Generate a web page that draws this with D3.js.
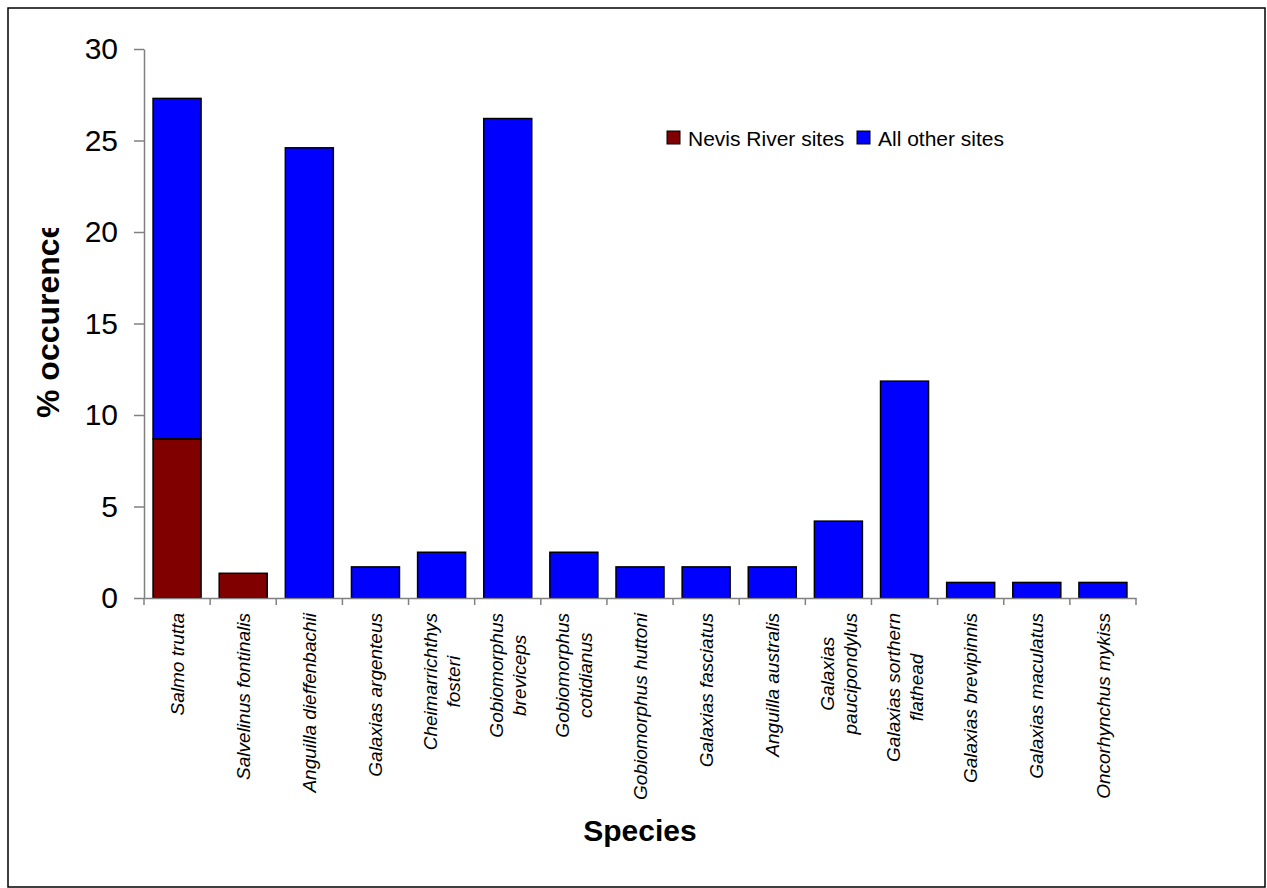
<!DOCTYPE html>
<html>
<head>
<meta charset="utf-8">
<script src="https://cdn.jsdelivr.net/npm/d3@7"></script>
<style>
  body { margin: 0; background: #fff; }
  svg { display: block; font-family: "Liberation Sans", Arial, sans-serif; }
</style>
</head>
<body>
<svg id="chart" width="1267" height="888"></svg>
<script>
const species = [
  "Salmo trutta",
  "Salvelinus fontinalis",
  "Anguilla dieffenbachii",
  "Galaxias argenteus",
  "Cheimarrichthys\nfosteri",
  "Gobiomorphus\nbreviceps",
  "Gobiomorphus\ncotidianus",
  "Gobiomorphus huttoni",
  "Galaxias fasciatus",
  "Anguilla australis",
  "Galaxias\npaucipondylus",
  "Galaxias sorthern\nflathead",
  "Galaxias brevipinnis",
  "Galaxias maculatus",
  "Oncorhynchus mykiss"
];
const nevisSites = [8.7, 1.35, 0, 0, 0, 0, 0, 0, 0, 0, 0, 0, 0, 0, 0];
const otherSites = [18.6, 0, 24.6, 1.7, 2.5, 26.2, 2.5, 1.7, 1.7, 1.7, 4.2, 11.85, 0.85, 0.85, 0.85];
const seriesNames = ["Nevis River sites", "All other sites"];
const seriesColors = ["#800000", "#0000ff"];
const yTicks = [0, 5, 10, 15, 20, 25, 30];

const svg = d3.select("#chart");

// frame
svg.append("rect")
  .attr("x", 8).attr("y", 8)
  .attr("width", 1257).attr("height", 879)
  .attr("fill", "none")
  .attr("stroke", "#000")
  .attr("stroke-width", 1.5);

const plotLeft = 144, plotRight = 1136, plotTop = 49, plotBottom = 598;

const x = d3.scaleBand()
  .domain(species)
  .range([plotLeft, plotRight])
  .paddingInner(0.274)
  .paddingOuter(0.137);

const y = d3.scaleLinear()
  .domain([0, 30])
  .range([plotBottom, plotTop]);

const rows = species.map((s, i) => ({ s, nevis: nevisSites[i], other: otherSites[i] }));
const stacked = d3.stack().keys(["nevis", "other"])(rows);

stacked.forEach((layer, k) => {
  svg.append("g")
    .selectAll("rect")
    .data(layer.filter(d => d[1] > d[0]))
    .enter()
    .append("rect")
    .attr("x", d => x(d.data.s))
    .attr("y", d => y(d[1]))
    .attr("width", x.bandwidth())
    .attr("height", d => y(d[0]) - y(d[1]))
    .attr("fill", seriesColors[k])
    .attr("stroke", "#000")
    .attr("stroke-width", 1.5);
});

// y axis
const yAxis = svg.append("g")
  .attr("transform", `translate(${plotLeft},0)`)
  .call(d3.axisLeft(y).tickValues(yTicks).tickSize(10).tickPadding(16).tickSizeOuter(0));
yAxis.select(".domain").attr("stroke", "#808080").attr("stroke-width", 1.5);
yAxis.selectAll(".tick line").attr("stroke", "#808080").attr("stroke-width", 1.5);
yAxis.selectAll(".tick text")
  .attr("fill", "#000")
  .style("font-size", "30px")
  .style("font-family", "'Liberation Sans', Arial, sans-serif");

// x axis: line plus ticks between categories
const xAxis = svg.append("g")
  .attr("transform", `translate(0,${plotBottom})`)
  .call(d3.axisBottom(x).tickValues([]).tickSizeOuter(0));
xAxis.select(".domain").attr("stroke", "#808080").attr("stroke-width", 1.5);

const bounds = d3.range(species.length + 1).map(i => plotLeft + i * x.step());
xAxis.selectAll(".bound")
  .data(bounds)
  .enter()
  .append("line")
  .attr("class", "bound")
  .attr("x1", d => d).attr("x2", d => d)
  .attr("y1", 0).attr("y2", 7)
  .attr("stroke", "#808080")
  .attr("stroke-width", 1.5);

// rotated species labels
const labelTop = 613;
const lineH = 23;
species.forEach(s => {
  const cx = x(s) + x.bandwidth() / 2;
  const lines = s.split("\n");
  const g = svg.append("g");
  const texts = lines.map(l => g.append("text")
    .text(l)
    .style("font-size", "19px")
    .style("font-style", "italic")
    .attr("text-anchor", "middle")
    .attr("fill", "#000"));
  const maxLen = d3.max(texts, t => t.node().getComputedTextLength());
  texts.forEach((t, i) => {
    t.attr("transform", `translate(${cx},${labelTop + maxLen / 2}) rotate(-90)`)
      .attr("x", 0)
      .attr("y", (i - (lines.length - 1) / 2) * lineH)
      .attr("dy", "0.35em");
  });
});

// axis titles
svg.append("text")
  .attr("x", 640)
  .attr("y", 841)
  .attr("text-anchor", "middle")
  .style("font-size", "30px")
  .style("font-weight", "bold")
  .text("Species");

// y title is cut off at the top, as in the original
svg.append("clipPath")
  .attr("id", "ytitle-clip")
  .append("rect")
  .attr("x", 0).attr("y", 228)
  .attr("width", 100).attr("height", 400);

svg.append("g")
  .attr("clip-path", "url(#ytitle-clip)")
  .append("text")
  .attr("transform", "translate(59,418) rotate(-90)")
  .attr("text-anchor", "start")
  .style("font-size", "32px")
  .style("font-weight", "bold")
  .text("% occurence");

// legend
const legend = svg.append("g")
  .selectAll("g")
  .data(seriesNames)
  .enter()
  .append("g")
  .attr("transform", (d, i) => `translate(${[667, 857][i]},131)`);

legend.append("rect")
  .attr("width", 13).attr("height", 13)
  .attr("fill", (d, i) => seriesColors[i])
  .attr("stroke", "#000")
  .attr("stroke-width", 1);

legend.append("text")
  .attr("x", 21)
  .attr("y", 15)
  .style("font-size", "21px")
  .text(d => d);
</script>
</body>
</html>
